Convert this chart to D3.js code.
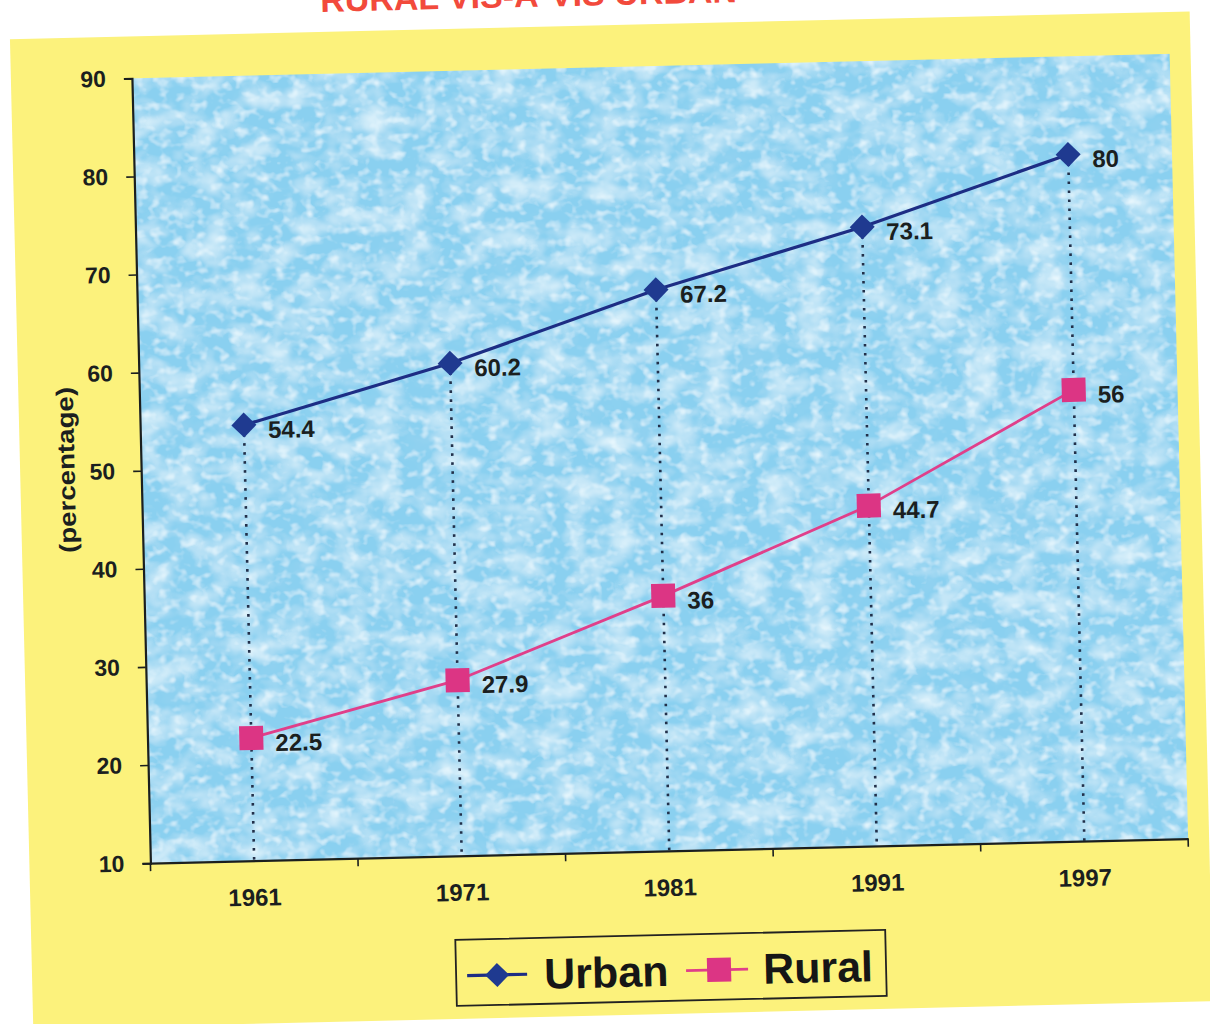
<!DOCTYPE html>
<html>
<head>
<meta charset="utf-8">
<script src="https://cdn.jsdelivr.net/npm/d3@7"></script>
<style>
  html, body { margin: 0; padding: 0; background: #ffffff; }
  svg { display: block; }
  text { font-family: "Liberation Sans", Arial, sans-serif; font-weight: bold; }
</style>
</head>
<body>
<svg id="chart" width="1210" height="1024"></svg>
<script>
// Literacy rate (percentage), census years
const years = ["1961", "1971", "1981", "1991", "1997"];
const urban = [54.4, 60.2, 67.2, 73.1, 80];
const rural = [22.5, 27.9, 36, 44.7, 56];
const yTicks = [10, 20, 30, 40, 50, 60, 70, 80, 90];
const seriesNames = ["Urban", "Rural"];

const plot = { left: 141, right: 1179, top: 66, bottom: 851 };
const tilt = -1.35, cx = 660, cy = 458;

const colors = {
  panel: "#fcf27c",
  water: "#8ad0f0",
  urbanLine: "#1d2d84",
  urbanMark: "#1f3a90",
  ruralLine: "#e03f8a",
  ruralMark: "#dc3584",
  ink: "#1b1f1f",
  title: "#f24a3c"
};

const svg = d3.select("#chart");
const defs = svg.append("defs");

// soft water-drop texture for the plot background
const f = defs.append("filter").attr("id", "drops")
  .attr("x", 0).attr("y", 0).attr("width", "100%").attr("height", "100%");
f.append("feTurbulence").attr("type", "fractalNoise").attr("baseFrequency", "0.03 0.04")
  .attr("numOctaves", 3).attr("seed", 11).attr("result", "noise");
f.append("feTurbulence").attr("type", "fractalNoise").attr("baseFrequency", "0.09 0.11")
  .attr("numOctaves", 2).attr("seed", 4).attr("result", "fine");
f.append("feFlood").attr("flood-color", colors.water).attr("result", "base");
f.append("feColorMatrix").attr("in", "noise").attr("type", "matrix")
  .attr("values", "0 0 0 0 0.33  0 0 0 0 0.66  0 0 0 0 0.88  0 -1.5 0 0 0.66")
  .attr("result", "dark");
f.append("feColorMatrix").attr("in", "noise").attr("type", "matrix")
  .attr("values", "0 0 0 0 0.84  0 0 0 0 0.95  0 0 0 0 0.99  1.5 0 0 0 -0.62")
  .attr("result", "light");
f.append("feColorMatrix").attr("in", "fine").attr("type", "matrix")
  .attr("values", "0 0 0 0 0.88  0 0 0 0 0.97  0 0 0 0 1  0 0 2.0 0 -1.02")
  .attr("result", "speck");
const merge = f.append("feMerge");
merge.append("feMergeNode").attr("in", "base");
merge.append("feMergeNode").attr("in", "dark");
merge.append("feMergeNode").attr("in", "light");
merge.append("feMergeNode").attr("in", "speck");

const g = svg.append("g").attr("transform", `rotate(${tilt}, ${cx}, ${cy})`);

// yellow chart panel
g.append("rect").attr("x", 20).attr("y", 24).attr("width", 1180).attr("height", 990)
  .attr("fill", colors.panel);

// title (runs off the top edge)
g.append("text").attr("x", 331).attr("y", 4)
  .attr("font-size", 34).attr("fill", colors.title)
  .text("RURAL VIS-A-VIS URBAN");

const x = d3.scaleBand().domain(years).range([plot.left, plot.right]).padding(0);
const y = d3.scaleLinear().domain([10, 90]).range([plot.bottom, plot.top]);
const cxOf = d => x(d) + x.bandwidth() / 2;

// plot area
g.append("rect").attr("x", plot.left).attr("y", plot.top)
  .attr("width", plot.right - plot.left).attr("height", plot.bottom - plot.top)
  .attr("fill", colors.water).attr("filter", "url(#drops)");

// drop lines from the upper point to the category axis
g.append("g").selectAll("line").data(years).join("line")
  .attr("x1", d => cxOf(d)).attr("x2", d => cxOf(d))
  .attr("y1", (d, i) => y(Math.max(urban[i], rural[i])))
  .attr("y2", y(10))
  .attr("stroke", "#22304a").attr("stroke-width", 2.6)
  .attr("stroke-dasharray", "2.6 6.4");

// value axis
const yAxis = g.append("g").attr("transform", `translate(${plot.left},0)`)
  .call(d3.axisLeft(y).tickValues(yTicks).tickSize(8).tickPadding(18).tickFormat(d3.format("d")));
yAxis.select(".domain").attr("stroke", colors.ink).attr("stroke-width", 2.2);
yAxis.selectAll(".tick line").attr("stroke", colors.ink).attr("stroke-width", 1.6);
yAxis.selectAll(".tick text").attr("font-size", 23).attr("fill", colors.ink)
  .attr("font-family", "Liberation Sans, Arial, sans-serif").attr("font-weight", "bold");

// category axis: labels centred in bands, ticks on band edges
const xAxis = g.append("g").attr("transform", `translate(0,${plot.bottom})`)
  .call(d3.axisBottom(x).tickSize(0).tickPadding(28));
xAxis.select(".domain").attr("stroke", colors.ink).attr("stroke-width", 2.2);
xAxis.selectAll(".tick text").attr("font-size", 24).attr("fill", colors.ink)
  .attr("font-family", "Liberation Sans, Arial, sans-serif").attr("font-weight", "bold");
const edges = years.map(d => x(d)).concat([plot.right]);
g.append("g").selectAll("line").data(edges).join("line")
  .attr("x1", d => d).attr("x2", d => d)
  .attr("y1", plot.bottom).attr("y2", plot.bottom + 8)
  .attr("stroke", colors.ink).attr("stroke-width", 1.6);

// axis title
g.append("text")
  .attr("transform", `translate(66,456) rotate(-90)`)
  .attr("text-anchor", "middle").attr("dominant-baseline", "central")
  .attr("font-size", 24).attr("fill", colors.ink)
  .attr("textLength", 166).attr("lengthAdjust", "spacingAndGlyphs")
  .text("(percentage)");

const line = d3.line().x((d, i) => cxOf(years[i])).y(d => y(d));
const diamond = (px, py, r) => `M${px},${py - r}L${px + r},${py}L${px},${py + r}L${px - r},${py}Z`;

// rural series
g.append("path").datum(rural).attr("d", line)
  .attr("fill", "none").attr("stroke", colors.ruralLine).attr("stroke-width", 2.8);
g.append("g").selectAll("rect").data(rural).join("rect")
  .attr("x", (d, i) => cxOf(years[i]) - 12).attr("y", d => y(d) - 12)
  .attr("width", 24).attr("height", 24).attr("fill", colors.ruralMark);

// urban series
g.append("path").datum(urban).attr("d", line)
  .attr("fill", "none").attr("stroke", colors.urbanLine).attr("stroke-width", 3.2);
g.append("g").selectAll("path").data(urban).join("path")
  .attr("d", (d, i) => diamond(cxOf(years[i]), y(d), 12.5))
  .attr("fill", colors.urbanMark);

// value labels
[urban, rural].forEach(series => {
  g.append("g").selectAll("text").data(series).join("text")
    .attr("x", (d, i) => cxOf(years[i]) + 24)
    .attr("y", d => y(d) + 5)
    .attr("dominant-baseline", "central")
    .attr("font-size", 24).attr("fill", colors.ink)
    .text(d => d);
});

// legend
const leg = g.append("g");
leg.append("rect").attr("x", 444).attr("y", 935).attr("width", 430).attr("height", 66)
  .attr("fill", "none").attr("stroke", "#222").attr("stroke-width", 1.8);
const rowY = 971;
leg.append("line").attr("x1", 455).attr("x2", 515).attr("y1", rowY).attr("y2", rowY)
  .attr("stroke", colors.urbanLine).attr("stroke-width", 3.2);
leg.append("path").attr("d", diamond(485, rowY, 12)).attr("fill", colors.urbanMark);
leg.append("text").attr("x", 532).attr("y", 986).attr("font-size", 43).attr("fill", "#161616")
  .text(seriesNames[0]);
leg.append("line").attr("x1", 674).attr("x2", 736).attr("y1", rowY).attr("y2", rowY)
  .attr("stroke", colors.ruralLine).attr("stroke-width", 2.8);
leg.append("rect").attr("x", 707 - 12).attr("y", rowY - 12).attr("width", 24).attr("height", 24)
  .attr("fill", colors.ruralMark);
leg.append("text").attr("x", 751).attr("y", 986).attr("font-size", 43).attr("fill", "#161616")
  .text(seriesNames[1]);
</script>
</body>
</html>
